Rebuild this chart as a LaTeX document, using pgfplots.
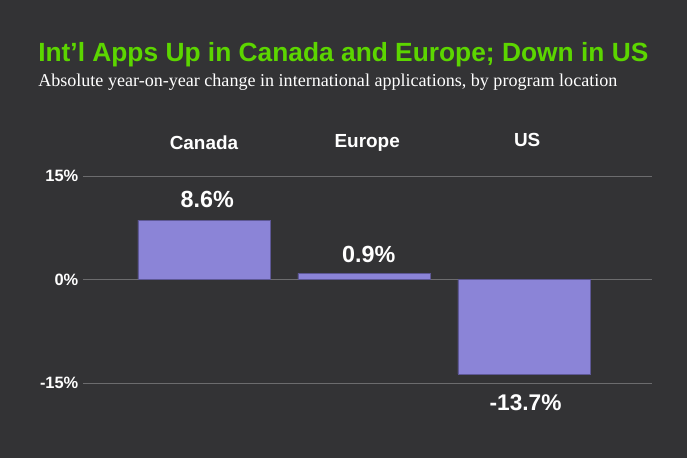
\documentclass[border=0pt]{standalone}
\usepackage{pgfplots}
\pgfplotsset{compat=1.18}
\usepackage{fontspec}
\setmainfont{Liberation Serif}
\newfontfamily\sans{Liberation Sans}
\definecolor{bg}{HTML}{333335}
\definecolor{ttl}{HTML}{5CD600}
\definecolor{barc}{HTML}{8B84D7}
\definecolor{bare}{HTML}{5E5896}
\definecolor{gridc}{HTML}{6C6C6E}
\begin{document}
\begin{tikzpicture}
\useasboundingbox (0pt,0pt) rectangle (515.25pt,343.5pt);
\fill[bg] (0pt,0pt) rectangle (515.25pt,343.5pt);
\node[anchor=base west,inner sep=0,text=ttl,font=\sans\bfseries\fontsize{19.75}{21}\selectfont] at (28.5pt,297.5pt) {Int’l Apps Up in Canada and Europe; Down in US};
\node[anchor=base west,inner sep=0,text=white,font=\fontsize{13.55}{15}\selectfont] at (28.5pt,278.5pt) {Absolute year-on-year change in international applications, by program location};
\begin{axis}[
  at={(62.25pt,56.25pt)}, anchor=south west,
  scale only axis, width=426.75pt, height=155.25pt,
  xmin=-0.756, xmax=2.8, ymin=-15, ymax=15,
  axis line style={draw=none}, clip=false,
  ytick={-15,0,15}, yticklabels={-15\%,0\%,15\%},
  xtick=\empty,
  ymajorgrids, grid style={gridc, line width=0.6pt},
  yticklabel style={text=white,font=\sans\bfseries\fontsize{12.3}{13}\selectfont,xshift=0pt},
  major tick length=0pt,
  ybar, bar width=99pt,
]
\addplot[fill=barc, draw=bare, line width=0.6pt] coordinates {(0,8.6) (1,0.9) (2,-13.7)};
\node[text=white,font=\sans\bfseries\fontsize{14.2}{15}\selectfont] at (axis cs:0,19.85) {Canada};
\node[text=white,font=\sans\bfseries\fontsize{14.2}{15}\selectfont] at (axis cs:1.02,19.85) {Europe};
\node[text=white,font=\sans\bfseries\fontsize{14.2}{15}\selectfont] at (axis cs:2.02,20.15) {US};
\node[text=white,font=\sans\bfseries\fontsize{17.5}{18}\selectfont] at (axis cs:0.02,11.6) {8.6\%};
\node[text=white,font=\sans\bfseries\fontsize{17.5}{18}\selectfont] at (axis cs:1.03,3.6) {0.9\%};
\node[text=white,font=\sans\bfseries\fontsize{17}{18}\selectfont] at (axis cs:2.01,-17.8) {-13.7\%};
\end{axis}
\end{tikzpicture}
\end{document}
